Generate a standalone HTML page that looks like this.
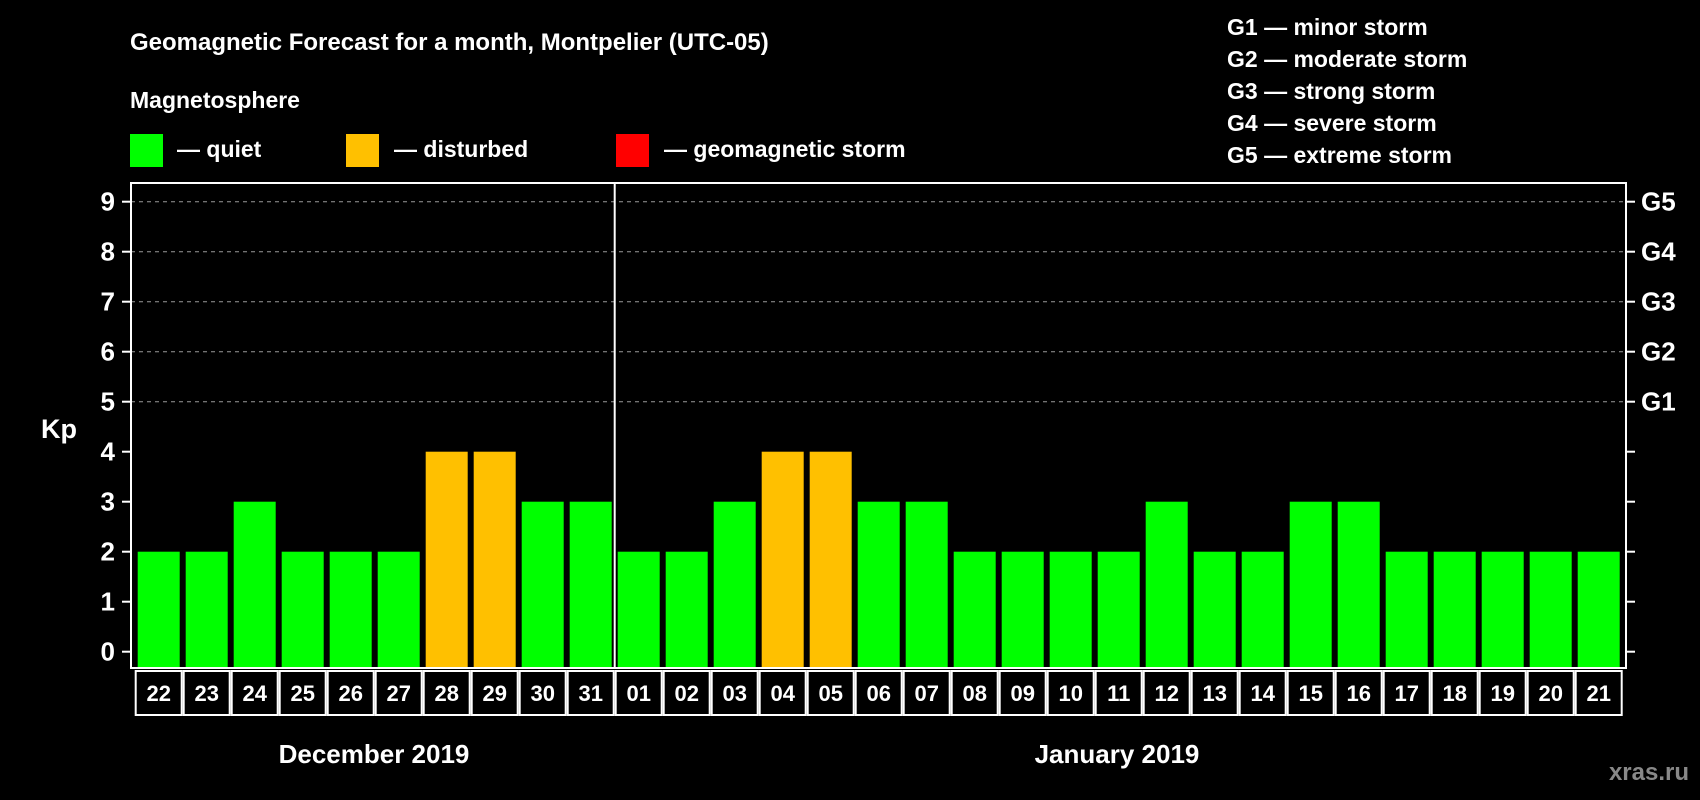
<!DOCTYPE html>
<html><head><meta charset="utf-8">
<style>
html,body{margin:0;padding:0;background:#000;}
svg{display:block;font-family:"Liberation Sans",Arial,sans-serif;font-weight:bold;}
</style></head>
<body>
<svg id="chart" width="1700" height="800" viewBox="0 0 1700 800" xmlns="http://www.w3.org/2000/svg">
<rect width="1700" height="800" fill="#000"/>
<text x="130" y="50" fill="#fff" font-size="24">Geomagnetic Forecast for a month, Montpelier (UTC-05)</text>
<text x="130" y="108" fill="#fff" font-size="23">Magnetosphere</text>
<g>
<rect x="130" y="134" width="33" height="33" fill="#00ff00"/>
<text x="177" y="157" fill="#fff" font-size="23">— quiet</text></g>
<g>
<rect x="346" y="134" width="33" height="33" fill="#ffc000"/>
<text x="394" y="157" fill="#fff" font-size="23">— disturbed</text></g>
<g>
<rect x="616" y="134" width="33" height="33" fill="#ff0000"/>
<text x="664" y="157" fill="#fff" font-size="23">— geomagnetic storm</text></g>
<g fill="#fff" font-size="23">
<text x="1227" y="35">G1 — minor storm</text>
<text x="1227" y="67">G2 — moderate storm</text>
<text x="1227" y="99">G3 — strong storm</text>
<text x="1227" y="131">G4 — severe storm</text>
<text x="1227" y="163">G5 — extreme storm</text>
</g>
<text x="41" y="438" fill="#fff" font-size="27">Kp</text>
<text x="374" y="763" fill="#fff" font-size="26" text-anchor="middle">December 2019</text>
<text x="1117" y="763" fill="#fff" font-size="26" text-anchor="middle">January 2019</text>
<text x="1689" y="780" fill="#888" font-size="24" text-anchor="end">xras.ru</text>
<g id="plot"></g>
</svg>
<script>
const days = ["22","23","24","25","26","27","28","29","30","31","01","02","03","04","05","06","07","08","09","10","11","12","13","14","15","16","17","18","19","20","21"];
const kpValues = [2,2,3,2,2,2,4,4,3,3,2,2,3,4,4,3,3,2,2,2,2,3,2,2,3,3,2,2,2,2,2];
const yTicks = [0,1,2,3,4,5,6,7,8,9];
const gLabels = ["G1","G2","G3","G4","G5"];
const gLevels = [5,6,7,8,9];
const monthBreakIndex = 10;

const NS = "http://www.w3.org/2000/svg";
const plot = document.getElementById("plot");
const L = 131, R = 1626, T = 183, B = 668;
const x0 = 137.7, pitch = 48, bw = 42;
function yScale(v){ return 651.7 - v * 50; }
function xScale(i){ return x0 + i * pitch; }
function mk(tag, attrs){ const e = document.createElementNS(NS, tag); for (const k in attrs) e.setAttribute(k, attrs[k]); plot.appendChild(e); return e; }
function color(v){ return v >= 5 ? "#ff0000" : (v >= 4 ? "#ffc000" : "#00ff00"); }

gLevels.forEach((v, i) => {
  const g = mk("line", {x1: L, x2: R, y1: yScale(v), y2: yScale(v), stroke: "#999", "stroke-width": 1, "stroke-dasharray": "4,4"});
  
  
  const t = mk("text", {x: 1641, y: yScale(v) + 9, fill: "#fff", "font-size": 26});
  t.textContent = gLabels[i];
  
  
});

yTicks.forEach(v => {
  const tl = mk("line", {x1: 122, x2: L, y1: yScale(v), y2: yScale(v), stroke: "#fff", "stroke-width": 2});
  
  
  const tr = mk("line", {x1: R, x2: 1635, y1: yScale(v), y2: yScale(v), stroke: "#fff", "stroke-width": 2});
  
  
  const t = mk("text", {x: 115, y: yScale(v) + 9, fill: "#fff", "font-size": 26, "text-anchor": "end"});
  t.textContent = v;
  
  
});

kpValues.forEach((v, i) => {
  const b = mk("rect", {x: xScale(i), y: yScale(v), width: bw, height: yScale(0) - yScale(v) + 16, fill: color(v)});
  
  
});

const frame = mk("rect", {x: L, y: T, width: R - L, height: B - T, fill: "none", stroke: "#fff", "stroke-width": 2});


const sepX = (xScale(monthBreakIndex - 1) + bw + xScale(monthBreakIndex)) / 2;
const sep = mk("line", {x1: sepX, x2: sepX, y1: T, y2: B, stroke: "#fff", "stroke-width": 2});



days.forEach((d, i) => {
  const cx = xScale(i) + bw / 2;
  const box = mk("rect", {x: cx - 24 + 1, y: 671, width: 46, height: 44, fill: "none", stroke: "#fff", "stroke-width": 2});
  
  
  const t = mk("text", {x: cx, y: 701, fill: "#fff", "font-size": 22, "text-anchor": "middle"});
  t.textContent = d;
  
  
});
</script>
</body></html>
